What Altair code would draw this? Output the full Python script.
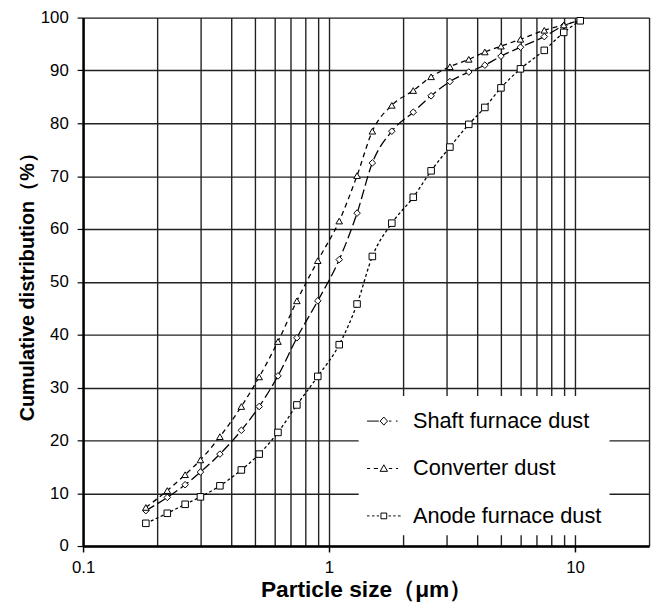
import altair as alt
import pandas as pd

sizes = [0.18, 0.22, 0.26, 0.30, 0.36, 0.44, 0.52, 0.62, 0.74, 0.90, 1.10, 1.30,
         1.50, 1.80, 2.20, 2.60, 3.10, 3.70, 4.30, 5.0, 6.0, 7.5, 9.0, 10.5]
series_names = ["Shaft furnace dust", "Converter dust", "Anode furnace dust"]
shaft = [6.7, 9.2, 11.6, 14.0, 17.4, 21.9, 26.4, 32.2, 39.4, 46.4, 54.2, 63.0,
         72.5, 78.5, 82.1, 85.2, 87.9, 89.7, 91.0, 92.7, 94.4, 96.4, 98.5, 99.4]
converter = [7.3, 10.5, 13.5, 16.3, 20.7, 26.4, 32.0, 38.7, 46.4, 54.0, 61.5, 70.1,
             78.5, 83.4, 86.2, 88.8, 90.7, 92.1, 93.5, 94.6, 95.9, 97.6, 98.6, 99.5]
anode = [4.3, 6.2, 7.9, 9.3, 11.4, 14.4, 17.4, 21.5, 26.7, 32.1, 38.1, 45.8,
         54.8, 61.1, 66.0, 71.0, 75.5, 79.8, 83.0, 86.7, 90.3, 93.8, 97.2, 99.4]
x_grid = [0.1, 0.2, 0.3, 0.4, 0.5, 0.6, 0.7, 0.8, 0.9, 1, 2, 3, 4, 5, 6, 7, 8, 9, 10, 20]
y_ticks = [0, 10, 20, 30, 40, 50, 60, 70, 80, 90, 100]

rows = []
for name, vals in zip(series_names, [shaft, converter, anode]):
    for s, v in zip(sizes, vals):
        rows.append({"size": s, "value": v, "series": name})
df = pd.DataFrame(rows)

FONT = "Liberation Sans"

x_enc = alt.X(
    "size:Q",
    scale=alt.Scale(type="log", domain=[0.1, 20], nice=False),
    axis=alt.Axis(
        values=x_grid,
        title="Particle size（μm）",
        titleFont=FONT, titleFontSize=23, titleFontWeight="bold", titleColor="black",
        titlePadding=3,
        labelFont=FONT, labelFontSize=17, labelColor="black", labelPadding=8,
        labelExpr="datum.value == 0.1 ? '0.1' : datum.value == 1 ? '1' : datum.value == 10 ? '10' : ''",
        labelFlush=False, labelOverlap=False,
        tickSize=6, tickColor="black", tickWidth=1.5,
        tickOpacity={"condition": {"test": "datum.value == 0.1 || datum.value == 1 || datum.value == 10", "value": 1}, "value": 0},
        grid=True, gridColor="#222", gridWidth=1.4,
        domainColor="black", domainWidth=2.5,
    ),
)
y_enc = alt.Y(
    "value:Q",
    scale=alt.Scale(domain=[0, 100], nice=False),
    axis=alt.Axis(
        values=y_ticks,
        title="Cumulative distribution（%）",
        titleFont=FONT, titleFontSize=20, titleFontWeight="bold", titleColor="black",
        titlePadding=3,
        labelFont=FONT, labelFontSize=17, labelColor="black", labelPadding=9,
        tickSize=6, tickColor="black", tickWidth=1.2,
        grid=True, gridColor="#222", gridWidth=1.4,
        domainColor="black", domainWidth=2.5,
    ),
)

P0 = "M-1,0H-0.3M0.3,0H0.45M0.72,0H0.82M0,-0.24L0.22,0L0,0.24L-0.22,0Z"
P1 = "M-1,0H-0.82M-0.6,0H-0.35M0.3,0H0.5M0.72,0H0.85M0,-0.22L0.22,0.17L-0.22,0.17Z"
P2 = ("M-1,0H-0.86M-0.7,0H-0.56M-0.42,0H-0.28M0.28,0H0.42M0.56,0H0.7M0.84,0H1"
      "M-0.17,-0.17H0.17V0.17H-0.17Z")

lines = alt.Chart(df).mark_line(
    interpolate="monotone", color="black", strokeWidth=1.3
).encode(
    x=x_enc,
    y=y_enc,
    strokeDash=alt.StrokeDash(
        "series:N",
        scale=alt.Scale(domain=series_names, range=[[10, 4], [5, 4], [3, 2.5]]),
        legend=None,
    ),
)

points = alt.Chart(df).mark_point(
    filled=True, fill="white", stroke="black", strokeWidth=1, size=44, opacity=1
).encode(
    x=x_enc,
    y=y_enc,
    shape=alt.Shape(
        "series:N",
        scale=alt.Scale(domain=series_names, range=["diamond", "triangle-up", "square"]),
        legend=None,
    ),
)

legend_layer = alt.Chart(df).transform_filter("false").mark_point(
    filled=False, color="black", strokeWidth=1, opacity=1
).encode(
    x=x_enc,
    y=y_enc,
    shape=alt.Shape(
        "series:N",
        scale=alt.Scale(domain=series_names, range=[P0, P1, P2]),
        legend=alt.Legend(
            title=None, orient="none", legendX=279, legendY=383,
            padding=8, fillColor="white",
            labelFont=FONT, labelFontSize=22, labelColor="black", labelOffset=12,
            labelLimit=400,
            symbolSize=1156, rowPadding=19,
            symbolStrokeColor="black",
            symbolStrokeWidth=1, symbolOpacity=1,
        ),
    ),
)

chart = alt.layer(lines, points, legend_layer).resolve_scale(
    shape="independent"
).properties(
    width=573, height=535,
    padding={"left": 76, "top": 6, "right": 4, "bottom": 58},
    autosize=alt.AutoSizeParams(type="none"),
).configure_view(
    stroke="black", strokeWidth=2.5
).configure(background="white")

chart.save("out.html", embed_options={"renderer": "svg", "actions": False})
